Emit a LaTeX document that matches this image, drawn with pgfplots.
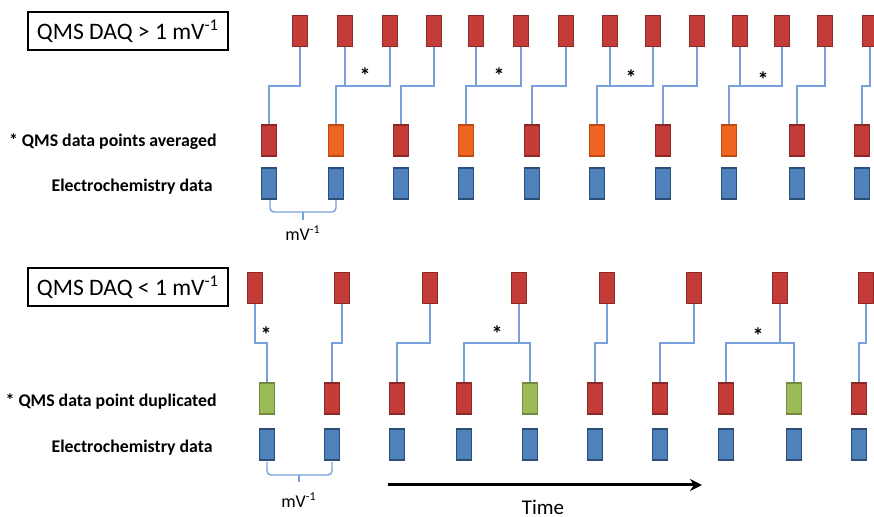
\documentclass[border=0pt]{standalone}
\usepackage{pgfplots}
\pgfplotsset{compat=1.18}
\usepackage{fontspec}
\setmainfont{Carlito}
\usetikzlibrary{arrows.meta}
\definecolor{rfill}{RGB}{195,60,55}
\definecolor{rdraw}{RGB}{140,40,38}
\definecolor{ofill}{RGB}{238,100,32}
\definecolor{odraw}{RGB}{190,75,20}
\definecolor{bfill}{RGB}{79,129,189}
\definecolor{bdraw}{RGB}{44,77,117}
\definecolor{gfill}{RGB}{155,187,89}
\definecolor{gdraw}{RGB}{113,137,63}
\definecolor{lnk}{RGB}{120,160,220}
\pgfdeclareplotmark{qbox}{%
 \pgfsetcornersarced{\pgfpoint{0.8pt}{0.8pt}}%
 \pgfpathrectangle{\pgfpoint{-3.7pt}{-7.7pt}}{\pgfpoint{7.4pt}{15.4pt}}%
 \pgfusepathqfillstroke}
\pgfplotsset{
 redbox/.style={only marks, mark=qbox, mark options={fill=rfill, draw=rdraw, line width=0.7pt}},
 orabox/.style={only marks, mark=qbox, mark options={fill=ofill, draw=odraw, line width=0.7pt}},
 blubox/.style={only marks, mark=qbox, mark options={fill=bfill, draw=bdraw, line width=0.7pt}},
 grnbox/.style={only marks, mark=qbox, mark options={fill=gfill, draw=gdraw, line width=0.7pt}},
 link/.style={lnk, line width=0.7pt, no marks, sharp plot},
}
\begin{document}
\begin{tikzpicture}
\begin{axis}[
  scale only axis, width=437pt, height=258.5pt,
  xmin=0, xmax=874, ymin=0, ymax=517, y dir=reverse,
  axis lines=none, ticks=none, clip=false,
]
% ---------- top panel ----------
\addplot[link] coordinates {(300,47)(300,86)(269,86)(269,125)};
\addplot[link] coordinates {(345,47)(345,86)};
\addplot[link] coordinates {(390,47)(390,86)(336,86)(336,125)};
\addplot[link] coordinates {(434,47)(434,86)(401,86)(401,125)};
\addplot[link] coordinates {(476,47)(476,86)};
\addplot[link] coordinates {(521,47)(521,86)(466,86)(466,125)};
\addplot[link] coordinates {(566,47)(566,86)(532,86)(532,125)};
\addplot[link] coordinates {(610,47)(610,86)};
\addplot[link] coordinates {(653,47)(653,86)(597,86)(597,125)};
\addplot[link] coordinates {(697,47)(697,86)(663,86)(663,125)};
\addplot[link] coordinates {(740,47)(740,86)};
\addplot[link] coordinates {(782,47)(782,86)(729,86)(729,125)};
\addplot[link] coordinates {(825,47)(825,86)(797,86)(797,125)};
\addplot[link] coordinates {(870,47)(870,86)(862,86)(862,125)};
% brace
\addplot[link, rounded corners=2pt] coordinates {(270,200)(270,212)(336,212)(336,200)};
\addplot[link] coordinates {(303,212)(303,220)};
% boxes
\addplot[redbox] coordinates {(300,31)(345,31)(390,31)(434,31)(476,31)(521,31)(566,31)(610,31)(653,31)(697,31)(740,31)(782,31)(825,31)(870,31)};
\addplot[redbox] coordinates {(269,140.5)(401,140.5)(532,140.5)(663,140.5)(797,140.5)(862,140.5)};
\addplot[orabox] coordinates {(336,140.5)(466,140.5)(597,140.5)(729,140.5)};
\addplot[blubox] coordinates {(269,183.5)(336,183.5)(401,183.5)(466,183.5)(532,183.5)(597,183.5)(663,183.5)(729,183.5)(797,183.5)(862,183.5)};
% ---------- bottom panel ----------
\addplot[link] coordinates {(255,303)(255,343)(267,343)(267,383)};
\addplot[link] coordinates {(342,303)(342,343)(332,343)(332,383)};
\addplot[link] coordinates {(430,303)(430,343)(397,343)(397,383)};
\addplot[link] coordinates {(519,303)(519,343)};
\addplot[link] coordinates {(464,383)(464,343)(530,343)(530,383)};
\addplot[link] coordinates {(607,303)(607,343)(595,343)(595,383)};
\addplot[link] coordinates {(694,303)(694,343)(660,343)(660,383)};
\addplot[link] coordinates {(780,303)(780,343)};
\addplot[link] coordinates {(726,383)(726,343)(794,343)(794,383)};
\addplot[link] coordinates {(866,303)(866,343)(859,343)(859,383)};
\addplot[link, rounded corners=2pt] coordinates {(267,462)(267,475)(332,475)(332,462)};
\addplot[link] coordinates {(299,475)(299,482)};
\addplot[redbox] coordinates {(255,288)(342,288)(430,288)(519,288)(607,288)(694,288)(780,288)(866,288)};
\addplot[redbox] coordinates {(332,398.5)(397,398.5)(464,398.5)(595,398.5)(660,398.5)(726,398.5)(859,398.5)};
\addplot[grnbox] coordinates {(267,398.5)(530,398.5)(794,398.5)};
\addplot[blubox] coordinates {(267,444.5)(332,444.5)(397,444.5)(464,444.5)(530,444.5)(595,444.5)(660,444.5)(726,444.5)(794,444.5)(859,444.5)};
% time arrow
\addplot[black, line width=1.5pt, -{Stealth[length=6pt,width=6pt]}, no marks] coordinates {(388,485)(702,485)};
% ---------- text ----------
\node[draw, line width=1.2pt, minimum width=100pt, minimum height=19pt, font=\fontsize{11.8}{13}\selectfont] at (axis cs:128,31) {QMS DAQ > 1 mV\textsuperscript{-1}};
\node[draw, line width=1.2pt, minimum width=100pt, minimum height=19pt, font=\fontsize{11.8}{13}\selectfont] at (axis cs:128,287) {QMS DAQ < 1 mV\textsuperscript{-1}};
\node[anchor=east, font=\bfseries\fontsize{8.9}{10}\selectfont, inner sep=0pt] at (axis cs:217,142) {* QMS data points averaged};
\node[anchor=east, font=\bfseries\fontsize{8.9}{10}\selectfont, inner sep=0pt] at (axis cs:213,187) {Electrochemistry data};
\node[anchor=east, font=\bfseries\fontsize{8.9}{10}\selectfont, inner sep=0pt] at (axis cs:217,402) {* QMS data point duplicated};
\node[anchor=east, font=\bfseries\fontsize{8.9}{10}\selectfont, inner sep=0pt] at (axis cs:213,448) {Electrochemistry data};
\node[font=\fontsize{9}{10}\selectfont] at (axis cs:303,233) {mV\textsuperscript{-1}};
\node[font=\fontsize{9}{10}\selectfont] at (axis cs:299,500) {mV\textsuperscript{-1}};
\node[font=\fontsize{10.5}{12}\selectfont] at (axis cs:543,507) {Time};
\node[font=\bfseries\fontsize{11}{11}\selectfont] at (axis cs:365,76) {*};
\node[font=\bfseries\fontsize{11}{11}\selectfont] at (axis cs:499,76) {*};
\node[font=\bfseries\fontsize{11}{11}\selectfont] at (axis cs:631,78) {*};
\node[font=\bfseries\fontsize{11}{11}\selectfont] at (axis cs:763,80) {*};
\node[font=\bfseries\fontsize{11}{11}\selectfont] at (axis cs:266,335) {*};
\node[font=\bfseries\fontsize{11}{11}\selectfont] at (axis cs:497,334) {*};
\node[font=\bfseries\fontsize{11}{11}\selectfont] at (axis cs:758,336) {*};
\end{axis}
\pgfresetboundingbox
\path (current axis.south west) rectangle (current axis.north east);
\end{tikzpicture}
\end{document}
